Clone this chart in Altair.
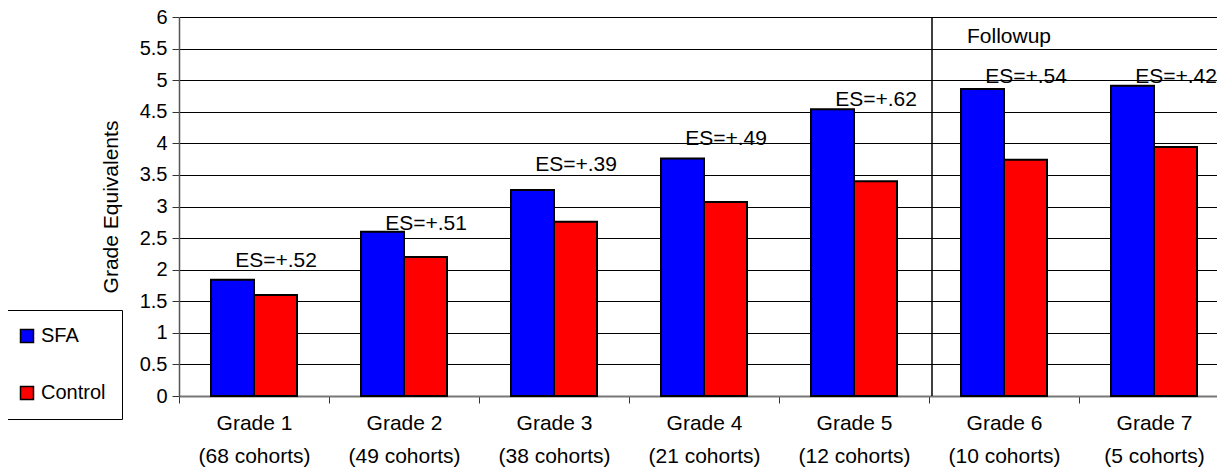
import altair as alt
import pandas as pd

grades = ["Grade 1", "Grade 2", "Grade 3", "Grade 4", "Grade 5", "Grade 6", "Grade 7"]
cohorts = ["(68 cohorts)", "(49 cohorts)", "(38 cohorts)", "(21 cohorts)",
           "(12 cohorts)", "(10 cohorts)", "(5 cohorts)"]
sfa = [1.84, 2.60, 3.26, 3.76, 4.54, 4.86, 4.91]
control = [1.60, 2.20, 2.76, 3.07, 3.40, 3.74, 3.94]
es_labels = ["ES=+.52", "ES=+.51", "ES=+.39", "ES=+.49", "ES=+.62", "ES=+.54", "ES=+.42"]
es_y = [2.14, 2.72, 3.66, 4.07, 4.69, 5.05, 5.05]
series = ["SFA", "Control"]
colors = ["#0000FF", "#FF0000"]
y_ticks = [0, 0.5, 1, 1.5, 2, 2.5, 3, 3.5, 4, 4.5, 5, 5.5, 6]
followup_text = "Followup"
followup_y = 5.68

cats = [g + "|" + c for g, c in zip(grades, cohorts)]

bars_df = pd.DataFrame(
    [{"cat": c, "series": "SFA", "value": v} for c, v in zip(cats, sfa)]
    + [{"cat": c, "series": "Control", "value": v} for c, v in zip(cats, control)]
)
es_df = pd.DataFrame({"cat": cats, "value": es_y, "label": es_labels})
follow_df = pd.DataFrame({"cat": [cats[5]], "value": [followup_y], "label": [followup_text]})

FONT = "Liberation Sans"

x_scale = alt.Scale(domain=cats, paddingInner=0, paddingOuter=0)
x_axis = alt.Axis(
    title=None,
    labelExpr="split(datum.label, '|')",
    tickBand="extent",
    labelAngle=0,
    labelFontSize=21,
    labelLineHeight=33,
    labelPadding=9,
    labelColor="black",
    labelOverlap=False,
    tickSize=7,
    tickColor="#333333",
    domainColor="#777777",
    domainWidth=2,
    grid=False,
)

y_scale = alt.Scale(domain=[0, 6], nice=False, zero=True)
y_axis = alt.Axis(
    title="Grade Equivalents",
    values=y_ticks,
    format="~g",
    labelFontSize=20,
    labelColor="black",
    labelPadding=5,
    labelOverlap=False,
    labelBound=False,
    tickSize=7,
    tickColor="#333333",
    domainColor="#555555",
    domainWidth=1.5,
    grid=True,
    gridColor="#000000",
    gridWidth=1,
    titleFontSize=21,
    titleFontWeight="normal",
    titleColor="black",
    titlePadding=18,
)


def X(**kw):
    return alt.X("cat:N", sort=cats, scale=x_scale, axis=x_axis, **kw)


def Y():
    return alt.Y("value:Q", scale=y_scale, axis=y_axis)


bars = alt.Chart(bars_df).mark_bar(stroke="black", strokeWidth=2).encode(
    x=X(),
    xOffset=alt.XOffset("series:N", sort=series,
                        scale=alt.Scale(domain=series, paddingOuter=0.744, paddingInner=0)),
    y=Y(),
    color=alt.Color(
        "series:N",
        scale=alt.Scale(domain=series, range=colors),
        legend=alt.Legend(
            title=None,
            orient="none",
            legendX=-178,
            legendY=293,
            direction="vertical",
            strokeColor="black",
            fillColor="white",
            padding=16,
            rowPadding=37,
            symbolType="square",
            symbolSize=169,
            symbolStrokeColor="black",
            symbolStrokeWidth=1.5,
            symbolOpacity=1,
            labelFontSize=20,
            labelColor="black",
            labelOffset=4,
        ),
    ),
)

es_text = alt.Chart(es_df).mark_text(
    fontSize=21, dx=22, baseline="middle", align="center", color="black"
).encode(
    x=X(),
    y=Y(),
    text="label:N",
)

sep_rule = alt.Chart(follow_df).mark_rule(color="black", strokeWidth=1.5).encode(
    x=X(bandPosition=0.02),
)

follow_text = alt.Chart(follow_df).mark_text(
    fontSize=21, dx=38, align="left", baseline="middle", color="black"
).encode(
    x=X(bandPosition=0),
    y=Y(),
    text="label:N",
)

chart = (
    alt.layer(bars, es_text, sep_rule, follow_text)
    .properties(
        width=1050,
        height=379,
        padding={"left": 171, "top": 9, "right": -12, "bottom": 72},
        autosize=alt.AutoSizeParams(type="none"),
    )
    .configure(font=FONT)
    .configure_view(stroke=None)
)

chart.save("out.html", embed_options={"renderer": "svg", "actions": False})
